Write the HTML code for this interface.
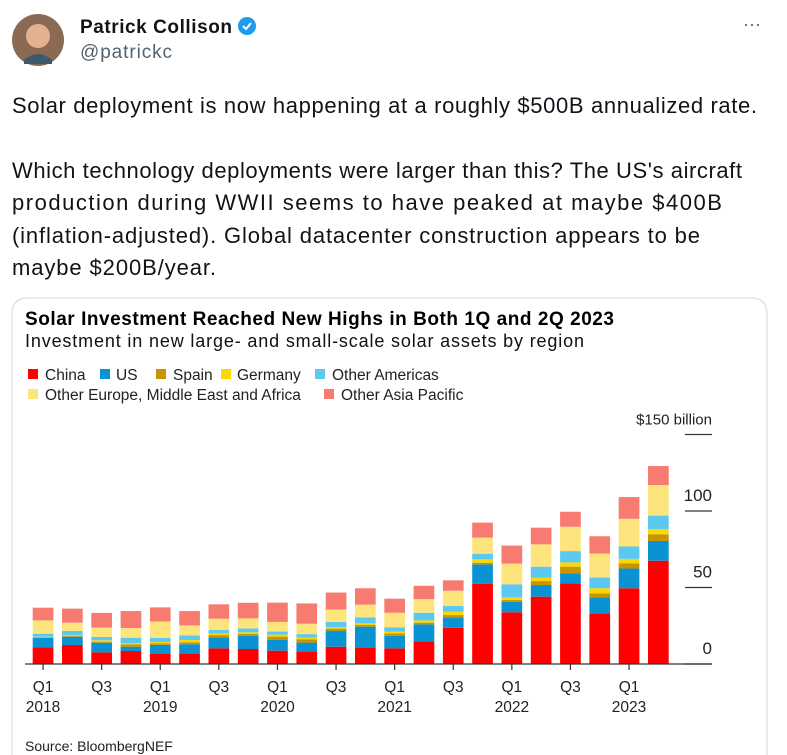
<!DOCTYPE html>
<html><head><meta charset="utf-8"><style>
html,body{margin:0;padding:0;background:#fff;width:787px;height:755px;overflow:hidden}
svg{display:block;font-family:"Liberation Sans",Arial,sans-serif}
</style></head><body>
<svg id="s" width="787" height="755" viewBox="0 0 787 755">
<g>
<circle cx="38" cy="40" r="26" fill="#8a6a55"/>
<circle cx="38" cy="36" r="12" fill="#e3b18f"/>
<path d="M24 60 Q38 48 52 60 L52 64 L24 64Z" fill="#3d5a6c"/>
<text x="80" y="33" font-size="19" font-weight="bold" fill="#0f1419" textLength="152">Patrick Collison</text>
<circle cx="247" cy="26" r="9" fill="#1d9bf0"/>
<path d="M243 26 l3 3 l5-6" stroke="#fff" stroke-width="2" fill="none"/>
<text x="80" y="58" font-size="19" fill="#536471" textLength="92">@patrickc</text>
<text x="743" y="30" font-size="18" fill="#536471">···</text>
</g>
<g font-size="22" fill="#0f1419">
<text x="12" y="113" textLength="745">Solar deployment is now happening at a roughly $500B annualized rate.</text>
<text x="12" y="178" textLength="730">Which technology deployments were larger than this? The US's aircraft</text>
<text x="12" y="210" textLength="710">production during WWII seems to have peaked at maybe $400B</text>
<text x="12" y="243" textLength="688">(inflation-adjusted). Global datacenter construction appears to be</text>
<text x="12" y="275" textLength="204">maybe $200B/year.</text>
</g>
<path d="M12 760 L12 314 Q12 298 28 298 L751 298 Q767 298 767 314 L767 760" fill="none" stroke="#cfd9de"/>
<text x="25" y="325" font-size="19" font-weight="bold" fill="#000" textLength="589">Solar Investment Reached New Highs in Both 1Q and 2Q 2023</text>
<text x="25" y="347" font-size="18" fill="#111" textLength="559">Investment in new large- and small-scale solar assets by region</text>
<g id="legend" font-size="15.5" fill="#222"></g>
<g id="chart"></g>
<text x="25" y="751" font-size="14" fill="#222">Source: BloombergNEF</text>
</svg>
<script>
const series = ["China","US","Spain","Germany","Other Americas","Other Europe, Middle East and Africa","Other Asia Pacific"];
const colors = ["#fe0000","#0a93d2","#c99400","#f8d800","#5cc8ef","#fde47c","#f87b72"];
const china = [11,12.4,7.6,8.5,6.8,6.8,10.2,9.8,8.7,8.1,11.3,10.7,10.2,14.8,23.7,52.5,33.8,44,52.7,33.1,49.5,67.5];
const us = [6,5.4,6.3,2.8,5.7,6.1,7.2,8.7,7,5.9,10.5,13.7,8.3,11.1,6.8,12.6,6.8,7.6,6.5,10.5,12.9,12.9];
const spain = [0.4,0.5,0.7,1.5,0.9,1.3,1.5,1.1,2.2,2.2,1.3,1.1,1.5,1.1,1.5,1.1,1.3,2.6,4.4,2.6,3.3,4.4];
const germany = [0.4,0.5,0.9,0.9,0.9,1.5,1.1,1.1,1.3,1.1,1.1,1.1,1.1,1.5,2.2,2.2,1.7,2.2,2.8,3.3,3,3.3];
const otherAmericas = [2,2.8,2.2,3.5,2.8,3,2.2,2.6,2,2.2,3.3,3.9,2.8,5,3.7,3.7,8.5,7.2,7.4,7,8.1,8.9];
const otherEmea = [8.7,5.4,6.1,6.3,10.7,6.5,7.4,6.5,6.3,6.8,8.1,8.3,9.6,8.9,10,10.5,13.5,14.6,15.9,15.7,18.1,20];
const otherApac = [8.3,9.2,9.6,11.1,9.2,9.4,9.4,10.2,12.6,13.3,11.1,10.7,9.2,8.7,6.8,9.8,11.8,10.9,9.8,11.3,14.2,12.4];
const quarters = ["Q1","Q2","Q3","Q4"];
const years = ["2018","2019","2020","2021","2022","2023"];
const yTicks = [0,50,100,150];
const yTickLabels = ["0","50","100","$150 billion"];
const data = [china,us,spain,germany,otherAmericas,otherEmea,otherApac];
const NS="http://www.w3.org/2000/svg";
function mk(t,a,p){const e=document.createElementNS(NS,t);for(const k in a)e.setAttribute(k,a[k]);p.appendChild(e);return e;}
const chart=document.getElementById('chart');


const y0=664, pxPer=1.53, x0=32.7, pitch=29.3, bw=20.7;
const yScale=v=>y0-v*pxPer;
const xScale=i=>x0+i*pitch;
yTicks.forEach((v,i)=>{
  const y=yScale(v);
  const l=mk('line',{x1:685,x2:712,y1:y,y2:y,stroke:'#333','stroke-width':1.2},chart);
  
  
  const t=mk('text',{x:712,y:y-10,'text-anchor':'end','font-size':i==3?15:17,fill:'#222'},chart);
  
  
  t.textContent=yTickLabels[i];
});
for(let i=0;i<china.length;i++){
  let acc=0;
  data.forEach((s,k)=>{
    const v=s[i];
    const r=mk('rect',{x:xScale(i),y:yScale(acc+v),width:bw,height:v*pxPer,fill:colors[k]},chart);
    
    
    acc+=v;
  });
}
const ax=mk('line',{x1:25,x2:712,y1:y0,y2:y0,stroke:'#333','stroke-width':1.2},chart);


for(let i=0;i<china.length;i+=2){
  const cx=xScale(i)+bw/2;
  const tk=mk('line',{x1:cx,x2:cx,y1:y0,y2:y0+6,stroke:'#333','stroke-width':1.2},chart);
  
  
  const t=mk('text',{x:cx,y:692,'text-anchor':'middle','font-size':15.5,fill:'#222'},chart);
  
  
  t.textContent=quarters[i%4];
  if(i%4==0){
    const yt=mk('text',{x:cx,y:712,'text-anchor':'middle','font-size':15.5,fill:'#222'},chart);
    
    
    yt.textContent=years[i/4];
  }
}
const lg=document.getElementById('legend');
const lpos=[[28,45,380],[100,116,380],[156,173,380],[221,237,380],[315,332,380],[28,45,400],[324,341,400]];
series.forEach((n,k)=>{
  const p=lpos[k];
  const r=mk('rect',{x:p[0],y:p[2]-11,width:10,height:10,fill:colors[k]},lg);
  
  
  const t=mk('text',{x:p[1],y:p[2]},lg);
  
  
  t.textContent=n;
});
</script>
</body></html>
